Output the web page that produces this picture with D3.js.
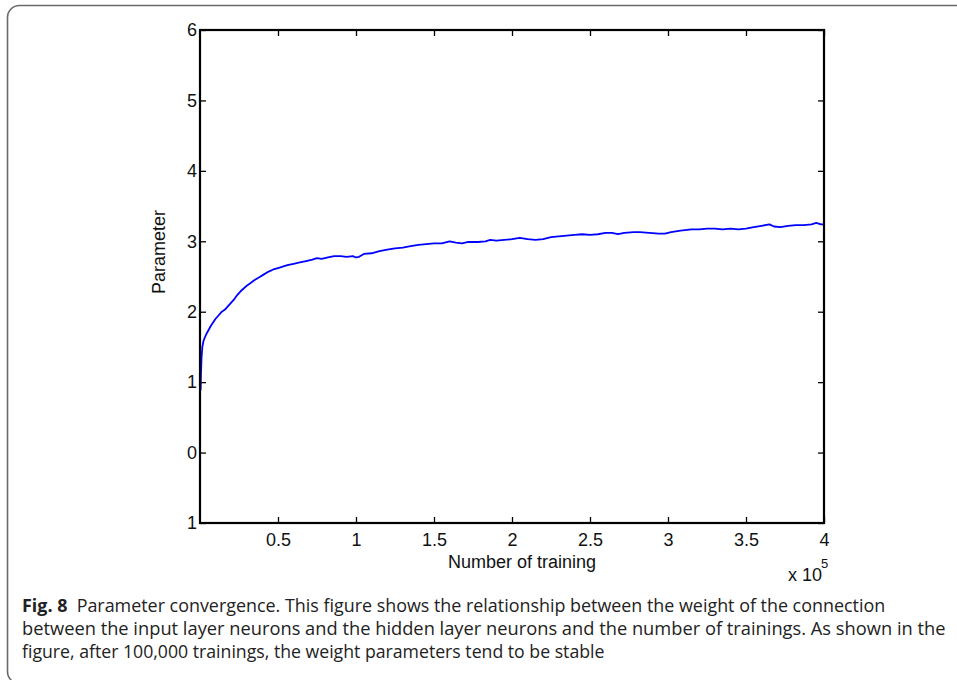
<!DOCTYPE html>
<html><head><meta charset="utf-8">
<script src="https://cdn.jsdelivr.net/npm/d3@7/dist/d3.min.js"></script>
<style>html,body{margin:0;padding:0;background:#fff;} svg{display:block;}</style>
</head><body>
<svg id="c" width="957" height="680"></svg>
<script>
// ---- data (x in units of 10^5 trainings) ----
const trainX = [0.004,0.006,0.010,0.015,0.022,0.030,0.040,0.055,0.070,0.085,0.100,0.120,0.140,0.160,0.180,0.200,0.220,0.240,0.260,0.280,0.300,0.320,0.350,0.380,0.410,0.440,0.470,0.500,0.530,0.560,0.600,0.640,0.680,0.720,0.750,0.780,0.820,0.860,0.900,0.940,0.980,1.000,1.020,1.050,1.100,1.150,1.200,1.250,1.300,1.350,1.400,1.450,1.500,1.550,1.600,1.640,1.680,1.720,1.780,1.830,1.860,1.900,1.950,2.000,2.050,2.100,2.150,2.200,2.250,2.300,2.350,2.400,2.450,2.500,2.550,2.600,2.640,2.680,2.720,2.780,2.820,2.880,2.940,2.980,3.020,3.080,3.150,3.200,3.250,3.300,3.350,3.400,3.450,3.500,3.550,3.600,3.650,3.680,3.720,3.770,3.820,3.870,3.920,3.950,3.980,4.000];
const paramY = [0.88,1.10,1.35,1.50,1.58,1.63,1.68,1.74,1.80,1.85,1.90,1.95,2.00,2.03,2.08,2.13,2.18,2.24,2.29,2.33,2.37,2.40,2.45,2.49,2.53,2.57,2.60,2.62,2.64,2.66,2.68,2.70,2.72,2.74,2.76,2.75,2.77,2.79,2.79,2.78,2.79,2.77,2.78,2.82,2.83,2.86,2.88,2.90,2.91,2.93,2.95,2.96,2.97,2.97,3.00,2.98,2.97,2.99,2.99,3.00,3.02,3.01,3.02,3.03,3.05,3.03,3.02,3.03,3.06,3.07,3.08,3.09,3.10,3.09,3.10,3.12,3.12,3.10,3.12,3.13,3.13,3.12,3.11,3.11,3.13,3.15,3.17,3.17,3.18,3.18,3.17,3.18,3.17,3.18,3.20,3.22,3.24,3.21,3.20,3.22,3.23,3.23,3.24,3.26,3.24,3.24];
const xTickValues = [0.5,1,1.5,2,2.5,3,3.5,4];
const xTickLabels = ["0.5","1","1.5","2","2.5","3","3.5","4"];
const yTickValues = [6,5,4,3,2,1,0,-1];
const yTickLabels = ["6","5","4","3","2","1","0","1"];
const captionLines = [
  "Parameter convergence. This figure shows the relationship between the weight of the connection",
  "between the input layer neurons and the hidden layer neurons and the number of trainings. As shown in the",
  "figure, after 100,000 trainings, the weight parameters tend to be stable"
];

const svg = d3.select("#c");
// outer frame
svg.append("rect").attr("x",7.5).attr("y",5.5).attr("width",1000).attr("height",678)
  .attr("rx",12).attr("fill","none").attr("stroke","#6a6a6a").attr("stroke-width",1.6);

const L=200,R=824,T=30,B=523;
const x = d3.scaleLinear().domain([0,4]).range([L,R]);
const y = d3.scaleLinear().domain([-1,6]).range([B,T]);
const font = "'Liberation Sans', Arial, sans-serif";
const fs = 18;
const tk = 6;

// curve
const line = d3.line().x((d,i)=>x(trainX[i])).y((d,i)=>y(paramY[i]));
svg.append("path").datum(paramY).attr("d",line).attr("fill","none")
  .attr("stroke","#0000ff").attr("stroke-width",1.8).attr("stroke-linejoin","round");

// axes with inward ticks on all sides
const gB = svg.append("g").attr("transform",`translate(0,${B})`)
  .call(d3.axisBottom(x).tickValues(xTickValues).tickSize(-tk).tickPadding(10).tickFormat((d,i)=>xTickLabels[i]));
const gT = svg.append("g").attr("transform",`translate(0,${T})`)
  .call(d3.axisTop(x).tickValues(xTickValues).tickSize(-tk).tickFormat(""));
const gL = svg.append("g").attr("transform",`translate(${L},0)`)
  .call(d3.axisLeft(y).tickValues(yTickValues).tickSize(-tk).tickPadding(3).tickFormat((d,i)=>yTickLabels[i]));
const gR = svg.append("g").attr("transform",`translate(${R},0)`)
  .call(d3.axisRight(y).tickValues(yTickValues).tickSize(-tk).tickFormat(""));
[gB,gT,gL,gR].forEach(g=>{
  g.select(".domain").remove();
  g.selectAll(".tick line").attr("stroke","#000").attr("stroke-width",1.3);
  g.selectAll("text").attr("font-family",font).attr("font-size",fs).attr("fill","#111");
});
gB.selectAll("text").attr("dy","0.71em");
// box
svg.append("rect").attr("x",L).attr("y",T).attr("width",R-L).attr("height",B-T)
  .attr("fill","none").attr("stroke","#000").attr("stroke-width",2.2);

// axis labels
svg.append("text").attr("x",522).attr("y",568).attr("text-anchor","middle")
  .attr("font-family",font).attr("font-size",fs).attr("fill","#111").text("Number of training");
svg.append("text").attr("transform","translate(165,252) rotate(-90)").attr("text-anchor","middle")
  .attr("font-family",font).attr("font-size",fs).attr("fill","#111").text("Parameter");
svg.append("text").attr("x",822).attr("y",581).attr("text-anchor","end")
  .attr("font-family",font).attr("font-size",fs).attr("fill","#111").text("x 10");
svg.append("text").attr("x",821).attr("y",568)
  .attr("font-family",font).attr("font-size",13).attr("fill","#111").text("5");

// caption
const capFont = "'Open Sans', 'Noto Sans', sans-serif";
const targets = [[22,886],[22,946],[22,605]];
const base = [612,635,658];
captionLines.forEach((t,i)=>{
  const g = svg.append("g");
  const tx = g.append("text").attr("x",0).attr("y",0)
    .attr("font-family",capFont).attr("font-size",17.5).attr("fill","#222");
  if(i===0){
    tx.append("tspan").attr("font-weight","bold").text("Fig. 8");
    tx.append("tspan").text("\u00a0\u00a0"+t);
  } else tx.text(t);
  const w = tx.node().getComputedTextLength();
  const sx = (targets[i][1]-targets[i][0])/w;
  g.attr("transform",`translate(${targets[i][0]},${base[i]}) scale(${sx},1)`);
});
</script>
</body></html>
